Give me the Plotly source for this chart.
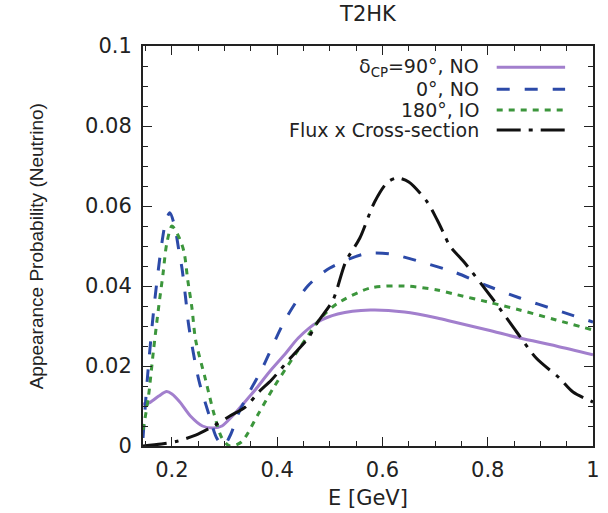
import plotly.graph_objects as go

# ---- data ----
E_cp90 = [0.145, 0.157, 0.175, 0.19, 0.2, 0.215, 0.235, 0.258, 0.279, 0.295, 0.315, 0.335, 0.358,
          0.385, 0.415, 0.44, 0.477, 0.515, 0.577, 0.642, 0.704, 0.736, 0.8, 0.861, 0.93, 1.0]
P_cp90 = [0.0105, 0.0108, 0.0125, 0.0136, 0.013, 0.011, 0.0075, 0.005, 0.0045, 0.005, 0.0075, 0.0105, 0.014,
          0.0185, 0.023, 0.027, 0.031, 0.033, 0.034, 0.0335, 0.032, 0.031, 0.029, 0.027, 0.025, 0.0228]

E_cp0 = [0.145, 0.154, 0.166, 0.179, 0.188, 0.196, 0.205, 0.213, 0.219, 0.226, 0.232, 0.251, 0.27, 0.285,
         0.298, 0.312, 0.326, 0.345, 0.37, 0.415, 0.458, 0.5, 0.566, 0.615, 0.679, 0.736, 0.8, 0.861, 0.93, 1.0]
P_cp0 = [0.002, 0.018, 0.0348, 0.049, 0.056, 0.0583, 0.055, 0.049, 0.0445, 0.037, 0.030, 0.0165, 0.008, 0.002,
         0.0, 0.003, 0.008, 0.013, 0.019, 0.0315, 0.040, 0.0445, 0.048, 0.048, 0.0458, 0.0435, 0.040, 0.037, 0.034, 0.031]

E_cp180 = [0.145, 0.155, 0.165, 0.175, 0.183, 0.19, 0.2, 0.214, 0.223, 0.23, 0.238, 0.245, 0.264, 0.28, 0.295,
           0.31, 0.332, 0.364, 0.395, 0.44, 0.483, 0.515, 0.577, 0.642, 0.704, 0.736, 0.8, 0.861, 0.93, 1.0]
P_cp180 = [0.004, 0.012, 0.024, 0.035, 0.043, 0.0505, 0.055, 0.052, 0.0485, 0.0415, 0.0345, 0.0265, 0.0165, 0.008, 0.002,
           0.0, 0.001, 0.008, 0.015, 0.024, 0.032, 0.0357, 0.0395, 0.040, 0.039, 0.038, 0.036, 0.034, 0.0315, 0.029]

E_flux = [0.145, 0.18, 0.21, 0.245, 0.279, 0.31, 0.34, 0.365, 0.389, 0.425, 0.459, 0.477, 0.506, 0.53, 0.557,
          0.585, 0.61, 0.628, 0.65, 0.685, 0.704, 0.717, 0.728, 0.755, 0.811, 0.855, 0.892, 0.936, 0.962, 1.0]
P_flux = [0.0, 0.0005, 0.0012, 0.0027, 0.005, 0.0075, 0.0098, 0.0135, 0.0165, 0.022, 0.027, 0.031, 0.0365, 0.046, 0.052,
          0.061, 0.066, 0.067, 0.066, 0.061, 0.0565, 0.053, 0.050, 0.046, 0.0365, 0.0285, 0.022, 0.017, 0.0135, 0.011]

x_ticks = [0.2, 0.4, 0.6, 0.8, 1.0]
x_ticklabels = ["0.2", "0.4", "0.6", "0.8", "1"]
y_ticks = [0, 0.02, 0.04, 0.06, 0.08, 0.1]
y_ticklabels = ["0", "0.02", "0.04", "0.06", "0.08", "0.1"]

labels = ["δ<sub>CP</sub>=90°, NO", "0°, NO", "180°, IO", "Flux x Cross-section"]
colors = ["#a27fcd", "#2c4aa8", "#3c963c", "#111111"]
dashes = ["solid", "13px,15px", "6px,6px", "24px,8px,4px,8px"]

series = [(E_cp90, P_cp90), (E_cp0, P_cp0), (E_cp180, P_cp180), (E_flux, P_flux)]

WIDE = "DejaVu Sans, Liberation Sans, Arial"
NARROW = "Liberation Sans, Arial"
TXT = "#222"

fig = go.Figure()
for (xs, ys), name, c, d in zip(series, labels, colors, dashes):
    fig.add_trace(go.Scatter(x=xs, y=ys, mode="lines", name=name, showlegend=False,
                             line=dict(color=c, width=3, dash=d, shape="spline", smoothing=0.8)))

# gnuplot-style legend: right-aligned text, line sample on the right
text_y = [0.947, 0.892, 0.840, 0.790]
line_y = [0.947, 0.892, 0.840, 0.790]
for name, c, d, ty, ly in zip(labels, colors, dashes, text_y, line_y):
    fig.add_annotation(x=0.751, y=ty, xref="paper", yref="paper", text=name, showarrow=False,
                       xanchor="right", yanchor="middle",
                       font=dict(family=WIDE, size=19, color=TXT))
    fig.add_shape(type="line", xref="paper", yref="paper", x0=0.786, x1=0.938, y0=ly, y1=ly,
                  line=dict(color=c, width=3, dash=d))

# axis titles (placed like the reference)
fig.add_annotation(x=0.5, y=-0.129, xref="paper", yref="paper", text="E [GeV]", showarrow=False,
                   xanchor="center", yanchor="middle", font=dict(family=WIDE, size=21, color=TXT))
fig.add_annotation(x=-0.237, y=0.5, xref="paper", yref="paper", text="Appearance Probability (Neutrino)",
                   showarrow=False, textangle=-90, xanchor="center", yanchor="middle",
                   font=dict(family=NARROW, size=19, color=TXT))

axis_common = dict(showgrid=False, zeroline=False, showline=True, linecolor=TXT, linewidth=2,
                   mirror="allticks", ticks="inside", ticklen=9, tickwidth=1.2, tickcolor=TXT,
                   automargin=False, tickfont=dict(family=WIDE, size=21, color=TXT))

fig.update_xaxes(range=[0.145, 1.0], tickvals=x_ticks, ticktext=x_ticklabels, ticklabelstandoff=4,
                 minor=dict(dtick=0.05, tick0=0, ticks="inside", ticklen=5, tickcolor=TXT),
                 **axis_common)
fig.update_yaxes(range=[0, 0.1], tickvals=y_ticks, ticktext=y_ticklabels, ticklabelstandoff=5,
                 minor=dict(dtick=0.005, tick0=0, ticks="inside", ticklen=5, tickcolor=TXT),
                 **axis_common)

fig.update_layout(
    width=608, height=513,
    margin=dict(l=143, r=15, t=46, b=67, autoexpand=False),
    paper_bgcolor="white", plot_bgcolor="white",
    title=dict(text="T2HK", x=0.5, xref="paper", y=0.973, yanchor="middle",
               font=dict(family=WIDE, size=21, color=TXT)),
)

fig.write_html("out.html")
